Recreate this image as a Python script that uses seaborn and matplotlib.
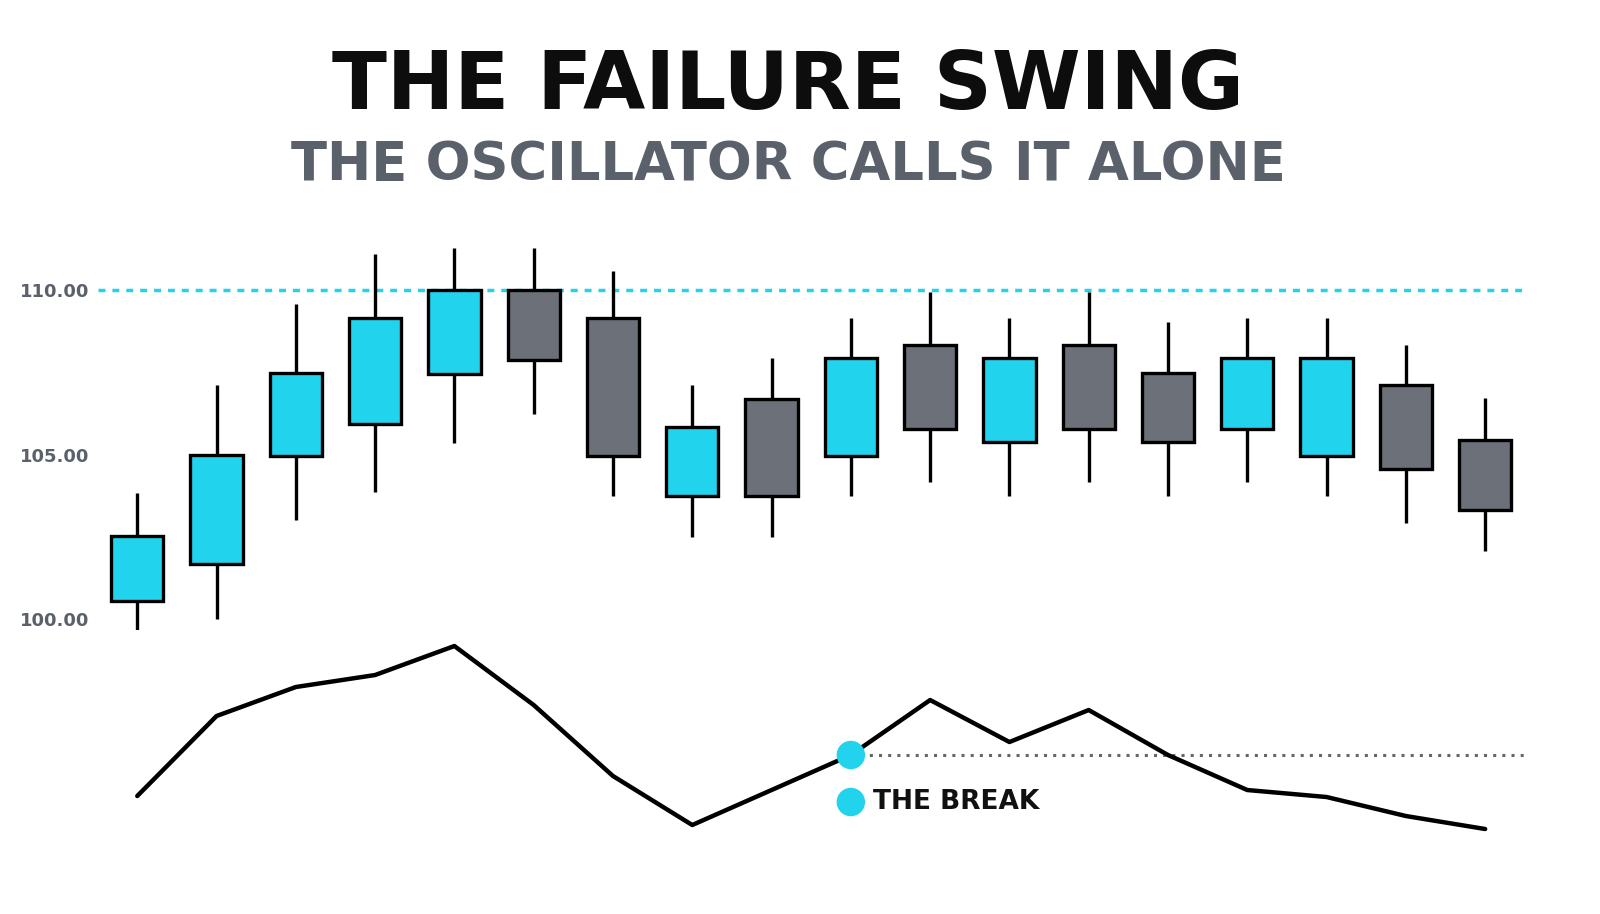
import numpy as np
import pandas as pd
import matplotlib.pyplot as plt
import seaborn as sns

sns.set_theme(style="white")
plt.rcParams['font.family'] = ['DejaVu Sans']

# candle data
opens = [100.55, 101.67, 104.95, 105.93, 107.45, 110.00, 109.15, 103.74, 106.69,
         104.95, 108.33, 105.38, 108.33, 107.50, 105.78, 104.95, 107.11, 105.44]
closes = [102.52, 105.00, 107.50, 109.15, 110.00, 107.87, 104.95, 105.84, 103.74,
          107.93, 105.78, 107.93, 105.78, 105.38, 107.93, 107.93, 104.56, 103.31]
highs = [103.83, 107.11, 109.57, 111.10, 111.28, 111.28, 110.58, 107.11, 107.93,
         109.15, 109.94, 109.15, 109.94, 109.03, 109.15, 109.15, 108.33, 106.72]
lows = [99.27, 100.00, 103.00, 103.86, 105.35, 106.23, 103.74, 102.49, 102.49,
        103.74, 104.16, 103.74, 104.16, 103.74, 104.16, 103.74, 102.92, 102.07]
osc = [104, 184, 213, 225, 254, 195, 124, 75, 110, 145, 200, 158, 190, 145, 110, 103, 84, 71]
resistance = 110.0
break_idx = 9
break_level = osc[break_idx]
price_ticks = [100, 105, 110]

CYAN = "#22d3ee"
GRAY = "#6b7079"
TXT_GRAY = "#5b616b"

df = pd.DataFrame({"i": np.arange(len(opens)), "open": opens, "close": closes,
                   "high": highs, "low": lows, "osc": osc})
df["bull"] = df["close"] >= df["open"]

fig = plt.figure(figsize=(16, 9.14), dpi=100)
ax1 = fig.add_axes([0.061, 0.2867, 0.892, 0.4496])
ax2 = fig.add_axes([0.061, 0.07, 0.892, 0.2407])

# price panel
ax1.axhline(resistance, color=CYAN, lw=2.5, ls=(0, (2, 2)), zorder=1)
ax1.vlines(df["i"], df["low"], df["high"], color="black", lw=2.4, zorder=2)
bottoms = df[["open", "close"]].min(axis=1)
heights = (df["close"] - df["open"]).abs()
ax1.bar(df["i"], heights, bottom=bottoms, width=0.66,
        color=[CYAN if b else GRAY for b in df["bull"]],
        edgecolor="black", linewidth=2.4, zorder=3)
ax1.set_xlim(-0.5, len(opens) - 0.5)
ax1.set_ylim(99, 111.5)
ax1.set_yticks(price_ticks)
ax1.set_yticklabels([f"{t:.2f}" for t in price_ticks], color=TXT_GRAY,
                    fontsize=13, fontweight="bold")
ax1.tick_params(axis="y", length=0, pad=6)
ax1.set_xticks([])
sns.despine(ax=ax1, left=True, bottom=True)

# oscillator panel
sns.lineplot(data=df, x="i", y="osc", ax=ax2, color="black", lw=3.2, zorder=2)
ax2.hlines(break_level, break_idx, len(opens) - 0.45, color="#666666", lw=2.2,
           ls=(0, (1, 2)), zorder=1)
ax2.scatter([break_idx], [break_level], s=420, color=CYAN, zorder=3, edgecolor="none")
ax2.scatter([break_idx], [break_level - 47], s=420, color=CYAN, zorder=3, edgecolor="none")
ax2.text(break_idx + 0.28, break_level - 47, "THE BREAK", fontsize=19,
         fontweight="bold", va="center", ha="left", color="#111111")
ax2.set_xlim(-0.5, len(opens) - 0.5)
ax2.set_ylim(50, 270)
ax2.set_xticks([])
ax2.set_yticks([])
ax2.set_xlabel("")
ax2.set_ylabel("")
sns.despine(ax=ax2, left=True, bottom=True)

fig.text(0.4925, 0.905, "THE FAILURE SWING", ha="center", va="center",
         fontsize=58, fontweight="bold", color="#0d0d0d")
fig.text(0.4925, 0.82, "THE OSCILLATOR CALLS IT ALONE", ha="center", va="center",
         fontsize=38, fontweight="bold", color=TXT_GRAY)

fig.savefig("out.png", dpi=100, facecolor="white")
